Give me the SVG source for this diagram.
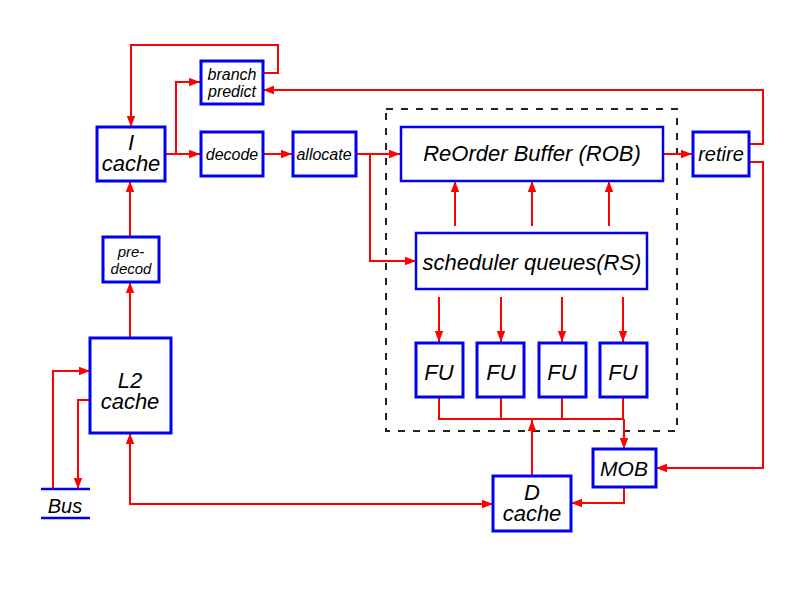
<svg xmlns="http://www.w3.org/2000/svg" width="800" height="600" viewBox="0 0 800 600">
<style>
.box{fill:#fff;stroke:#0000ee;stroke-width:3}
.big{fill:#fff;stroke:#0000ee;stroke-width:2.5}
.w{fill:none;stroke:#ff0000;stroke-width:2}
.a{fill:none;stroke:#ff0000;stroke-width:2;marker-end:url(#ah)}
.t{font-family:"Liberation Sans",Arial,sans-serif;font-style:italic;fill:#000;text-anchor:middle}
</style>
<defs>
<marker id="ah" markerWidth="12" markerHeight="10" refX="11" refY="5" orient="auto" markerUnits="userSpaceOnUse">
<path d="M0,0.8 L11,5 L0,9.2 Z" fill="#ff0000"/>
</marker>
<marker id="as" markerWidth="12" markerHeight="10" refX="1" refY="5" orient="auto" markerUnits="userSpaceOnUse">
<path d="M12,0.8 L1,5 L12,9.2 Z" fill="#ff0000"/>
</marker>
</defs>
<rect width="800" height="600" fill="#fff"/>
<rect x="386" y="109" width="291" height="322" fill="none" stroke="#222" stroke-width="2" stroke-dasharray="7 8"/>
<g id="connectors">
<path class="a" d="M263,73 H278 V45 H131 V127"/>
<path class="a" d="M166,154 H200"/>
<path class="a" d="M176,154 V82 H200"/>
<path class="a" d="M263,154 H292"/>
<path class="a" d="M356,154 H400"/>
<path class="a" d="M370,154 V261 H416"/>
<path class="a" d="M663,154 H692"/>
<path class="a" d="M749,144 H763 V90 H263"/>
<path class="a" d="M749,162 H763 V468 H656"/>
<path class="a" d="M455,226 V181"/>
<path class="a" d="M532,226 V181"/>
<path class="a" d="M609,226 V181"/>
<path class="a" d="M439,297 V342"/>
<path class="a" d="M501,297 V342"/>
<path class="a" d="M562,297 V342"/>
<path class="a" d="M623,297 V342"/>
<path class="w" d="M439,397 V419 H623 M501,397 V419 M562,397 V419 M623,397 V419"/>
<path class="a" d="M532,476 V420"/>
<path class="a" d="M624,419 V449"/>
<path class="a" d="M624,487 V503 H571"/>
<path class="a" d="M130,433 V504 H493" style="marker-start:url(#as)"/>
<path class="a" d="M130,338 V282"/>
<path class="a" d="M130,237 V181"/>
<path class="a" d="M53,489 V371 H90"/>
<path class="a" d="M90,400 H78 V489"/>
</g>
<g id="icache"><rect class="box" x="97" y="127" width="68" height="54"/><text class="t" x="131" y="150" font-size="22">I</text><text class="t" x="131" y="171" font-size="22">cache</text></g>
<g id="branch"><rect class="box" x="201" y="61" width="62" height="43"/><text class="t" x="232" y="80" font-size="16">branch</text><text class="t" x="232" y="97" font-size="16">predict</text></g>
<g id="decode"><rect class="box" x="201" y="132" width="62" height="44"/><text class="t" x="232" y="160" font-size="16">decode</text></g>
<g id="allocate"><rect class="box" x="293" y="132" width="63" height="44"/><text class="t" x="324" y="160" font-size="16">allocate</text></g>
<g id="rob"><rect class="big" x="401" y="127" width="262" height="54"/><text class="t" x="532" y="161" font-size="22">ReOrder Buffer (ROB)</text></g>
<g id="retire"><rect class="box" x="693" y="132" width="56" height="44"/><text class="t" x="721" y="161" font-size="20">retire</text></g>
<g id="sched"><rect class="big" x="416" y="233" width="231" height="56"/><text class="t" x="532" y="270" font-size="22">scheduler queues(RS)</text></g>
<g id="fu1"><rect class="box" x="416" y="343" width="47" height="54"/><text class="t" x="439" y="380" font-size="22">FU</text></g>
<g id="fu2"><rect class="box" x="477" y="343" width="47" height="54"/><text class="t" x="501" y="380" font-size="22">FU</text></g>
<g id="fu3"><rect class="box" x="539" y="343" width="47" height="54"/><text class="t" x="562" y="380" font-size="22">FU</text></g>
<g id="fu4"><rect class="box" x="600" y="343" width="47" height="54"/><text class="t" x="623" y="380" font-size="22">FU</text></g>
<g id="mob"><rect class="box" x="593" y="449" width="63" height="38"/><text class="t" x="624" y="476" font-size="21">MOB</text></g>
<g id="dcache"><rect class="box" x="493" y="476" width="78" height="55"/><text class="t" x="532" y="500" font-size="22">D</text><text class="t" x="532" y="521" font-size="22">cache</text></g>
<g id="predecod"><rect class="box" x="103" y="237" width="56" height="45"/><text class="t" x="131" y="257" font-size="15">pre-</text><text class="t" x="131" y="274" font-size="15">decod</text></g>
<g id="l2"><rect class="box" x="90" y="338" width="81" height="95"/><text class="t" x="130" y="388" font-size="22">L2</text><text class="t" x="130" y="409" font-size="22">cache</text></g>
<g id="bus"><path d="M41,489 H90 M41,518 H90" stroke="#0000ee" stroke-width="2.5"/><text class="t" x="65" y="513" font-size="20">Bus</text></g>
</svg>
